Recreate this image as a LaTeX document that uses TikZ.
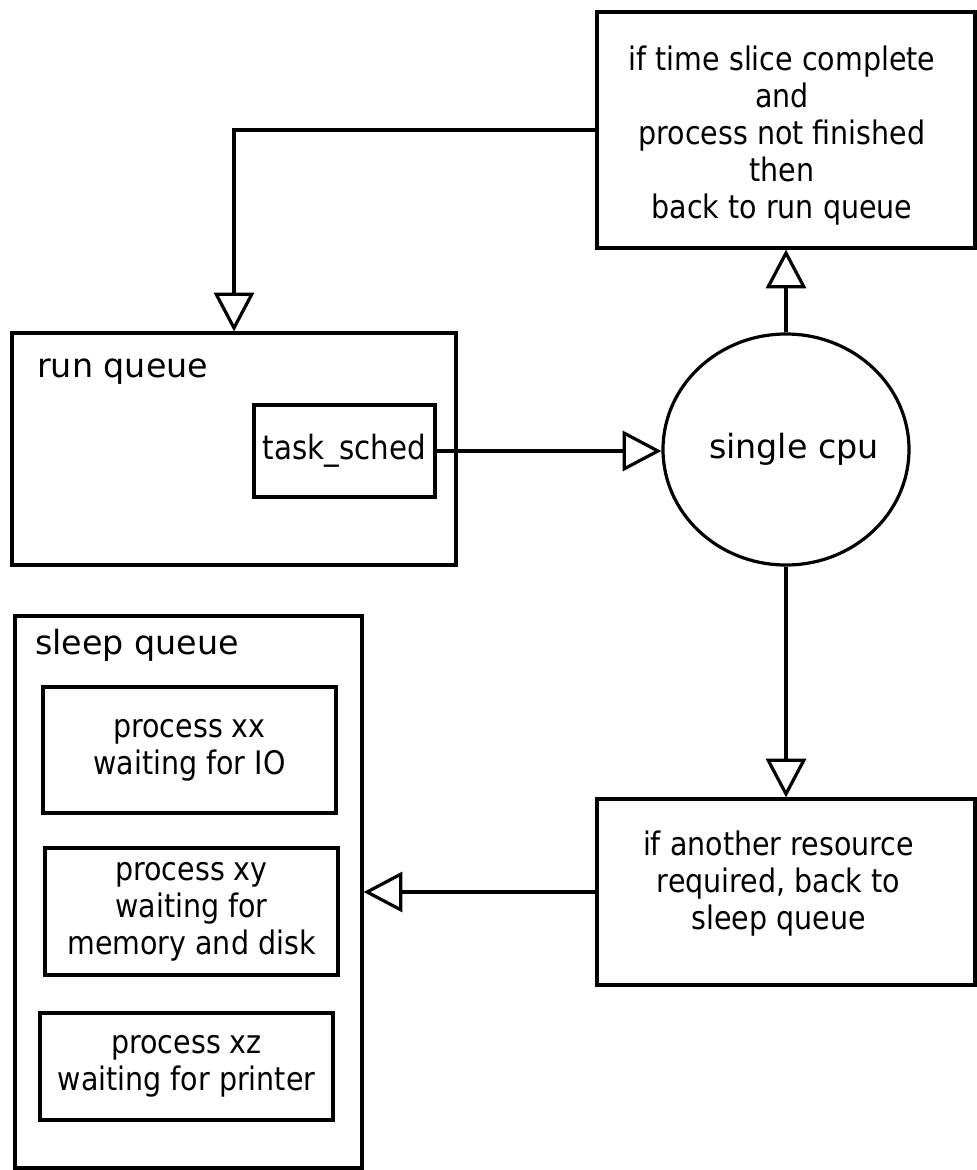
\documentclass[tikz,border=0pt]{standalone}
\usepackage{fontspec}
\setmainfont{DejaVu Sans}
\newfontfamily\condfont{DejaVu Sans}[FakeStretch=0.88]
\usetikzlibrary{arrows.meta,shapes.geometric}
\tikzset{
  boxnode/.style={draw, rectangle, line width=2.4pt, inner sep=0pt, fill=white},
  btext/.style={font=\condfont\fontsize{24.3pt}{27.75pt}\selectfont, align=center, inner sep=0pt},
  lbl/.style={font=\fontsize{25pt}{30pt}\selectfont, inner sep=0pt},
  arr/.style={line width=2.4pt, -{Triangle[open, length=29pt, width=30pt]}},
}
\begin{document}
\begin{tikzpicture}[x=0.75pt, y=-0.75pt]
\useasboundingbox (0,0) rectangle (977,1170);
% top right box
\node[boxnode, minimum width={378*0.75pt}, minimum height={236*0.75pt}] (tbox) at (786,130) {};
\node[btext] (tboxtext) at (782,136) {if time slice complete\\and\\process not finished\\then\\back to run queue};
% run queue
\node[boxnode, minimum width={444*0.75pt}, minimum height={232*0.75pt}] (rq) at (234,449) {};
\node[lbl, anchor=base west] (rqlabel) at (37,377) {run queue};
\node[boxnode, btext, font=\condfont\fontsize{25pt}{30pt}\selectfont, minimum width={181*0.75pt}, minimum height={92*0.75pt}] (ts) at (344.5,451) {task\_sched};
% cpu
\node[draw, ellipse, line width=2.4pt, inner sep=0pt, minimum width={246*0.75pt}, minimum height={231*0.75pt}] (cpu) at (786,449.5) {};
\node[lbl] (cputext) at (794,449) {single cpu};
% bottom right box
\node[boxnode, minimum width={378*0.75pt}, minimum height={186*0.75pt}] (bbox) at (786,892) {};
\node[btext] (bboxtext) at (778.5,884) {if another resource\\required, back to\\sleep queue};
% sleep queue
\node[boxnode, minimum width={347*0.75pt}, minimum height={552*0.75pt}] (sq) at (188.5,892) {};
\node[lbl, anchor=base west] (sqlabel) at (35,654) {sleep queue};
\node[boxnode, btext, minimum width={293*0.75pt}, minimum height={126*0.75pt}] (p1) at (189.5,750) {process xx\\waiting for IO};
\node[boxnode, btext, minimum width={293*0.75pt}, minimum height={127*0.75pt}] (p2) at (191.5,911.5) {process xy\\waiting for\\memory and disk};
\node[boxnode, btext, minimum width={293*0.75pt}, minimum height={107*0.75pt}] (p3) at (186.5,1066.5) {process xz\\waiting for printer};
% connectors
\draw[arr] (tbox.west) -| (rq.north);
\draw[arr] (ts.east) -- (ts.east -| cpu.west);
\draw[arr] (cpu.north) -- (cpu.north |- tbox.south);
\draw[arr] (cpu.south) -- (cpu.south |- bbox.north);
\draw[arr] (bbox.west) -- (bbox.west -| sq.east);
\end{tikzpicture}
\end{document}
